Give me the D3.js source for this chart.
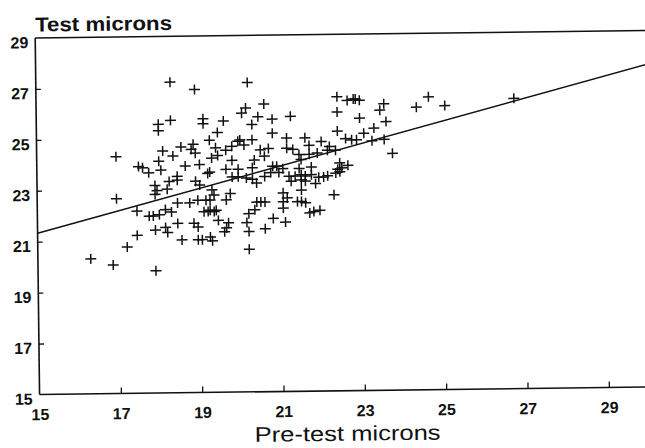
<!DOCTYPE html>
<html>
<head>
<meta charset="utf-8">
<script src="https://cdn.jsdelivr.net/npm/d3@7"></script>
<style>
  html, body { margin: 0; padding: 0; background: #fff; }
  svg { display: block; }
  text { font-family: "Liberation Sans", Arial, Helvetica, sans-serif; fill: #111; }
</style>
</head>
<body>
<svg id="chart" width="645" height="448"></svg>
<script>
// Pre-test fibre diameter (x) and test fibre diameter (y), microns
const preTest = [
  18.3, 18.9, 20.2, 20.6, 20.15, 20.05, 20.45, 20.8, 18.0, 18.3,
  18.0, 19.1, 19.1, 19.6, 20.3, 20.8, 19.45, 19.25, 20.0, 20.3,
  16.95, 17.5, 17.6, 18.1, 18.0, 18.35, 18.55, 18.85, 18.8, 18.9,
  18.65, 19.0, 19.4, 19.45, 19.3, 19.65, 19.8, 19.95, 20.1, 19.8,
  20.35, 20.5, 20.7, 20.6, 19.25, 19.65, 19.95, 17.75, 18.05, 18.45,
  20.8, 20.3, 22.4, 22.65, 22.8, 22.85, 22.95, 22.4, 22.95, 23.55,
  23.45, 23.6, 23.3, 24.35, 24.65, 25.05, 21.25, 22.4, 22.6, 22.75,
  22.87, 23.05, 23.25, 23.55, 23.75, 21.15, 21.6, 21.7, 22.0, 22.2,
  22.15, 22.35, 21.15, 21.3, 21.45, 21.7, 21.9, 21.5, 20.9, 21.05,
  21.45, 21.75, 22.4, 22.5, 22.65, 21.2, 21.35, 21.6, 21.93, 22.05,
  22.45, 26.75, 16.95, 17.45, 17.45, 17.2, 16.3, 16.85, 17.9, 17.9,
  17.95, 17.9, 18.25, 18.45, 18.2, 17.75, 17.85, 18.0, 18.15, 18.3,
  17.9, 18.15, 18.2, 18.45, 18.75, 18.45, 18.55, 18.9, 19.0, 18.95,
  19.15, 18.85, 18.95, 18.95, 19.05, 19.25, 19.3, 19.1, 19.2, 19.25,
  19.4, 19.3, 19.35, 19.25, 19.2, 19.45, 19.65, 19.6, 19.7, 19.75,
  19.65, 19.8, 19.95, 20.15, 20.3, 20.2, 20.35, 20.4, 20.5, 20.6,
  20.15, 20.2, 20.2, 20.6, 20.75, 20.8, 20.4, 22.3, 21.7, 21.8,
  21.95, 21.1, 21.05, 21.15, 21.05, 21.4, 21.5, 21.6, 21.5, 21.05,
  21.85, 22.35, 22.45, 20.95, 21.5, 21.75, 22.15, 21.25, 21.5, 21.6,
  20.6, 19.35
];
const testMicrons = [
  27.2, 26.9, 27.15, 26.3, 26.15, 25.95, 25.8, 25.7, 25.55, 25.7,
  25.3, 25.75, 25.55, 25.65, 25.5, 25.15, 25.2, 24.9, 24.9, 24.9,
  24.3, 23.9, 23.85, 24.5, 24.1, 24.3, 24.65, 24.75, 24.55, 24.4,
  23.9, 23.95, 24.6, 24.3, 24.2, 24.5, 24.65, 24.85, 24.7, 24.1,
  24.1, 24.5, 24.55, 24.25, 23.65, 23.75, 23.75, 23.65, 23.75, 23.5,
  23.85, 23.8, 26.55, 26.4, 26.45, 26.45, 26.4, 25.95, 25.7, 26.25,
  26.0, 25.55, 25.3, 26.1, 26.5, 26.15, 25.8, 25.2, 24.9, 24.85,
  24.85, 25.1, 24.8, 24.85, 24.3, 24.95, 24.95, 24.65, 24.8, 24.6,
  24.45, 24.45, 24.55, 24.5, 24.3, 24.3, 24.35, 24.1, 23.85, 23.75,
  23.75, 23.8, 23.7, 23.75, 23.85, 23.45, 23.45, 23.45, 23.4, 23.4,
  23.95, 26.4, 22.65, 22.15, 21.2, 20.75, 20.3, 20.05, 19.8, 23.15,
  22.95, 22.8, 23.3, 23.35, 23.0, 21.95, 21.95, 22.0, 22.2, 22.1,
  21.4, 21.5, 21.3, 22.45, 22.45, 21.65, 21.0, 23.3, 23.15, 22.55,
  22.55, 21.65, 21.5, 21.0, 21.0, 21.1, 20.95, 22.1, 22.1, 22.15,
  22.15, 22.95, 22.75, 22.55, 23.6, 21.75, 21.45, 21.3, 21.65, 22.8,
  22.55, 23.45, 23.45, 23.4, 23.35, 22.0, 22.15, 22.45, 22.45, 22.45,
  21.65, 21.3, 20.6, 21.4, 23.6, 21.8, 23.2, 22.7, 22.0, 22.05,
  22.1, 21.65, 22.8, 22.6, 22.45, 22.45, 22.45, 22.4, 22.9, 22.2,
  23.15, 23.55, 23.6, 23.6, 23.5, 23.5, 23.45, 23.25, 23.3, 23.25,
  23.45, 22.1
];

// Fitted line, given by its end points [pre-test, test]
const fitPre = [15, 30];
const fitTest = [21.33, 27.66];

const xTicks = [15, 17, 19, 21, 23, 25, 27, 29];
const yTicks = [15, 17, 19, 21, 23, 25, 27, 29];

const svg = d3.select("#chart");
// whole plot sits at a slight tilt
const g = svg.append("g").attr("transform", "rotate(-0.7, 322, 224)");

const x = d3.scaleLinear().domain([15, 30]).range([37.5, 647.5]);
const y = d3.scaleLinear().domain([15, 29]).range([391, 34.5]);

const ink = "#111";
const font = "'Liberation Sans', Arial, Helvetica, sans-serif";

// top rule
g.append("line").attr("x1", x(15)).attr("x2", x(30)).attr("y1", y(29)).attr("y2", y(29))
  .attr("stroke", ink).attr("stroke-width", 1.6);

const xAxis = d3.axisBottom(x).tickValues(xTicks).tickSize(-6).tickPadding(12).tickFormat(d3.format("d"));
const gx = g.append("g").attr("transform", `translate(0,${y(15)})`).call(xAxis);
gx.select(".domain").attr("stroke", ink).attr("stroke-width", 1.6).attr("d", `M${x(15)},0H${x(30)}`);
gx.selectAll(".tick line").attr("stroke", ink).attr("stroke-width", 1.3)
  .style("display", d => d === 15 ? "none" : null);
gx.selectAll(".tick text").attr("font-size", 16).attr("font-weight", "bold").attr("fill", ink)
  .attr("dy", "0.85em");

const yAxis = d3.axisLeft(y).tickValues(yTicks).tickSize(-5).tickPadding(7).tickFormat(d3.format("d"));
const gy = g.append("g").attr("transform", `translate(${x(15)},0)`).call(yAxis);
gy.select(".domain").attr("stroke", ink).attr("stroke-width", 1.6).attr("d", `M0,${y(15)}V${y(29)}`);
gy.selectAll(".tick line").attr("stroke", ink).attr("stroke-width", 1.3)
  .style("display", d => (d === 15 || d === 29) ? "none" : null);
gy.selectAll(".tick text").attr("font-size", 16).attr("font-weight", "bold").attr("fill", ink)
  .attr("dy", "0.6em");
svg.selectAll(".tick text").style("font-family", font);

// fitted line
g.append("line")
  .attr("x1", x(fitPre[0])).attr("y1", y(fitTest[0]))
  .attr("x2", x(fitPre[1])).attr("y2", y(fitTest[1]))
  .attr("stroke", ink).attr("stroke-width", 1.5);

// plus-sign markers
const pts = preTest.map((p, i) => [p, testMicrons[i]]);
g.append("g").selectAll("path").data(pts).join("path")
  .attr("transform", d => `translate(${x(d[0])},${y(d[1])})`)
  .attr("d", "M-5.5,0H5.5M0,-5V5")
  .attr("fill", "none").attr("stroke", ink).attr("stroke-width", 1.5);

// axis titles
g.append("text").attr("x", x(15)).attr("y", 28)
  .attr("font-size", 20).attr("font-weight", "bold")
  .attr("textLength", 137).attr("lengthAdjust", "spacingAndGlyphs")
  .text("Test microns");

g.append("text").attr("x", 252).attr("y", 441)
  .attr("font-size", 21)
  .attr("textLength", 186).attr("lengthAdjust", "spacingAndGlyphs")
  .text("Pre-test microns");
</script>
</body>
</html>
